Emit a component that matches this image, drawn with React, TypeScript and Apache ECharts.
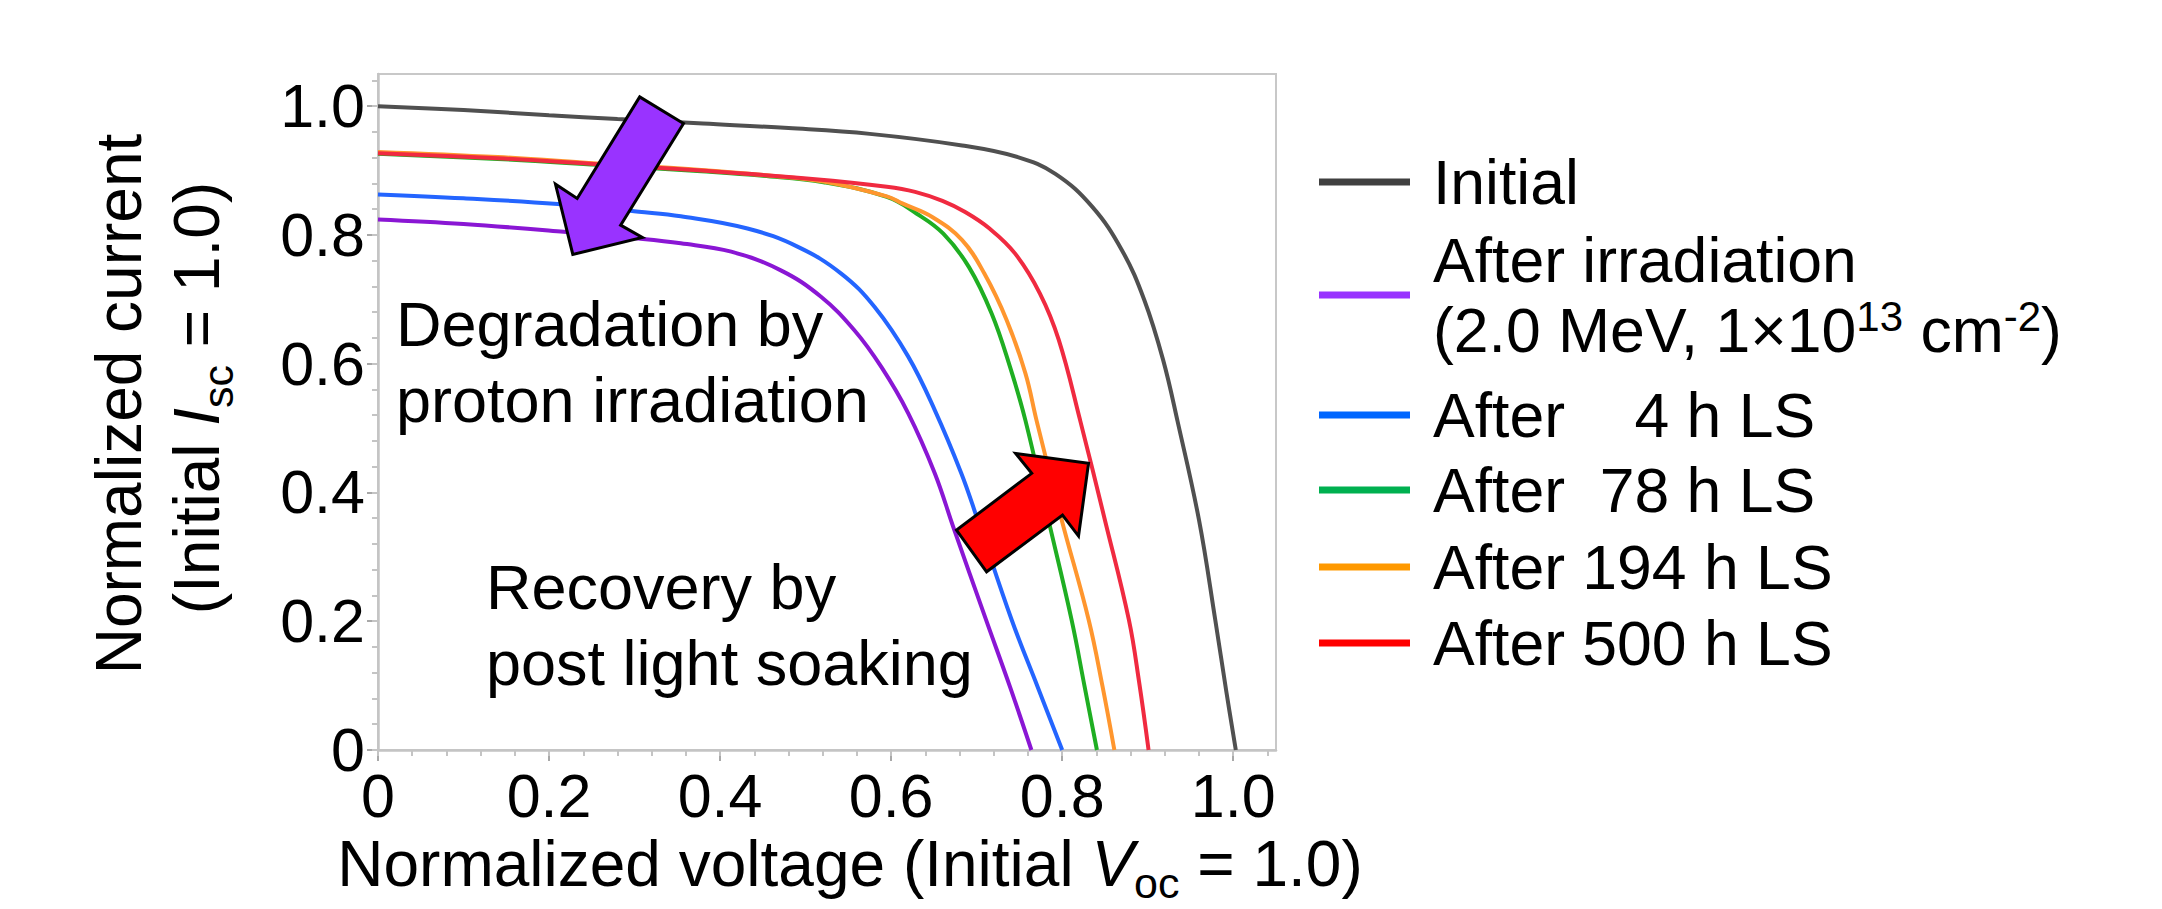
import React, { useEffect, useRef } from 'react';
import * as echarts from 'echarts';

// ---------- data (normalized voltage V, normalized current I) ----------
const seriesNames = ['Initial', 'After irradiation', 'After    4 h LS', 'After  78 h LS', 'After 194 h LS', 'After 500 h LS'];

const initialV = [0, 0.10, 0.20, 0.28, 0.38, 0.48, 0.575, 0.683, 0.748, 0.792, 0.835, 0.870, 0.896, 0.918, 0.935, 0.960, 0.979, 0.992, 1.003];
const initialI = [1.000, 0.994, 0.986, 0.980, 0.973, 0.966, 0.957, 0.939, 0.921, 0.895, 0.844, 0.776, 0.699, 0.606, 0.510, 0.357, 0.202, 0.090, 0];

const irradV = [0, 0.10, 0.217, 0.30, 0.354, 0.413, 0.471, 0.518, 0.557, 0.5885, 0.620, 0.651, 0.673, 0.711, 0.739, 0.764];
const irradI = [0.824, 0.817, 0.805, 0.795, 0.787, 0.774, 0.745, 0.704, 0.652, 0.595, 0.523, 0.430, 0.345, 0.202, 0.098, 0];

const ls4V = [0, 0.10, 0.21, 0.305, 0.354, 0.432, 0.491, 0.5416, 0.5807, 0.620, 0.651, 0.682, 0.700, 0.741, 0.771, 0.800];
const ls4I = [0.863, 0.857, 0.848, 0.836, 0.829, 0.810, 0.7815, 0.740, 0.688, 0.611, 0.528, 0.430, 0.362, 0.202, 0.099, 0];

const ls78V = [0, 0.14, 0.256, 0.378, 0.45, 0.521, 0.595, 0.630, 0.661, 0.691, 0.7175, 0.739, 0.757, 0.784, 0.811, 0.826, 0.8406];
const ls78I = [0.926, 0.918, 0.909, 0.899, 0.892, 0.882, 0.859, 0.833, 0.802, 0.750, 0.678, 0.595, 0.512, 0.357, 0.202, 0.100, 0];

const ls194V = [0, 0.14, 0.256, 0.378, 0.45, 0.521, 0.595, 0.613, 0.648, 0.683, 0.709, 0.735, 0.757, 0.770, 0.7995, 0.831, 0.847, 0.861];
const ls194I = [0.929, 0.921, 0.911, 0.901, 0.893, 0.883, 0.860, 0.849, 0.828, 0.792, 0.740, 0.668, 0.585, 0.512, 0.357, 0.202, 0.100, 0];

const ls500V = [0, 0.14, 0.256, 0.378, 0.508, 0.595, 0.628, 0.660, 0.686, 0.715, 0.745, 0.774, 0.796, 0.821, 0.850, 0.878, 0.890, 0.901];
const ls500I = [0.927, 0.919, 0.910, 0.900, 0.887, 0.875, 0.867, 0.853, 0.836, 0.810, 0.771, 0.709, 0.637, 0.512, 0.357, 0.202, 0.105, 0];

const majorTicks = [0, 0.2, 0.4, 0.6, 0.8, 1.0];

// annotation arrows, in data coordinates [V, I]
const purpleArrow = [[0.3572, 0.9731], [0.3060, 1.0144], [0.2329, 0.8567], [0.2075, 0.8789], [0.2278, 0.7697], [0.3091, 0.7961], [0.2837, 0.8152]];
const redArrow = [[0.7116, 0.2768], [0.6764, 0.3416], [0.7644, 0.4297], [0.7456, 0.4607], [0.8308, 0.4452], [0.8191, 0.3323], [0.8004, 0.3649]];

// ---------- styles ----------
const FONT = "'Liberation Sans', Arial, Helvetica, sans-serif";
const curveColors = ['#505050', '#8a16d4', '#2465ff', '#1fae22', '#ff962e', '#f02a40'];
const legendColors = ['#404040', '#9933ff', '#0066ff', '#00b050', '#ff9900', '#ff0000'];
const legendY = [182, 295, 415, 490, 567, 643];

export default function App() {
  const ref = useRef<HTMLDivElement>(null);

  useEffect(() => {
    document.body.style.margin = '0';
    const chart = echarts.init(ref.current!, null, { renderer: 'svg' });

    const curves = [
      [initialV, initialI],
      [irradV, irradI],
      [ls4V, ls4I],
      [ls78V, ls78I],
      [ls194V, ls194I],
      [ls500V, ls500I],
    ];

    const series = curves.map(([vs, is], k) => ({
      type: 'line',
      name: seriesNames[k],
      data: vs.map((v, i) => [v, is[i]]),
      showSymbol: false,
      smooth: 0.4,
      silent: true,
      xAxisIndex: 0,
      yAxisIndex: 0,
      lineStyle: { color: curveColors[k], width: 4 },
      z: 2 + k,
    }));

    const minorVals: number[] = [];
    for (let k = 0; k <= 26; k++) minorVals.push(Math.round(k * 4) / 100);

    const fmt = (v: number) => (v === 0 ? '0' : v.toFixed(1));

    const axisCommon = {
      type: 'value',
      min: 0,
      max: 1.05,
      splitLine: { show: false },
    };

    chart.setOption({
      animation: false,
      backgroundColor: '#ffffff',
      grid: {
        left: 378, top: 74, width: 898, height: 676,
        show: true, borderColor: '#c8c8c8', borderWidth: 2,
        outerBoundsMode: 'none',
      },
      xAxis: [
        {
          ...axisCommon, position: 'bottom', interval: 0.2,
          axisLine: { show: true, onZero: false, lineStyle: { color: '#c4c4c4', width: 2.5 } },
          axisTick: { show: true, length: 11, customValues: majorTicks, lineStyle: { color: '#a8a8a8', width: 2 } },
          axisLabel: { show: true, customValues: majorTicks, formatter: fmt, fontSize: 61, fontFamily: FONT, color: '#000', margin: 15 },
        },
        {
          ...axisCommon, position: 'bottom', interval: 0.04,
          axisLine: { show: false },
          axisTick: { show: true, length: 6, customValues: minorVals, lineStyle: { color: '#c4c4c4', width: 2 } },
          axisLabel: { show: false },
        },
      ],
      yAxis: [
        {
          ...axisCommon, position: 'left', interval: 0.2,
          axisLine: { show: true, onZero: false, lineStyle: { color: '#c4c4c4', width: 2.5 } },
          axisTick: { show: true, length: 11, customValues: majorTicks, lineStyle: { color: '#a8a8a8', width: 2 } },
          axisLabel: { show: true, customValues: majorTicks, formatter: fmt, fontSize: 61, fontFamily: FONT, color: '#000', margin: 13 },
        },
        {
          ...axisCommon, position: 'left', interval: 0.04,
          axisLine: { show: false },
          axisTick: { show: true, length: 6, customValues: minorVals, lineStyle: { color: '#c4c4c4', width: 2 } },
          axisLabel: { show: false },
        },
      ],
      series,
    });

    const toPx = (pts: number[][]) =>
      pts.map((p) => chart.convertToPixel({ xAxisIndex: 0, yAxisIndex: 0 }, p) as number[]);

    const baseText = { fontSize: 63, fontFamily: FONT, fill: '#000' };
    const titleText = { fontSize: 64, fontFamily: FONT, fill: '#000' };
    const subStyle = { fontSize: 43, fontFamily: FONT, fill: '#000', height: 22, verticalAlign: 'bottom' };
    const subStyleX = { fontSize: 43, fontFamily: FONT, fill: '#000', height: 26, verticalAlign: 'bottom' };
    const itStyle = { fontSize: 64, fontFamily: FONT, fontStyle: 'italic', fill: '#000' };
    const supStyle = { fontSize: 42, fontFamily: FONT, fill: '#000', height: 43, verticalAlign: 'top' };

    const legendLabels = [
      seriesNames[0],
      'After irradiation\n(2.0 MeV, 1×10{sup|13} cm{sup|-2})',
      seriesNames[2],
      seriesNames[3],
      seriesNames[4],
      seriesNames[5],
    ];

    const legendEls: any[] = [];
    legendLabels.forEach((label, k) => {
      legendEls.push({
        type: 'line',
        shape: { x1: 1319, y1: legendY[k], x2: 1410, y2: legendY[k] },
        style: { stroke: legendColors[k], lineWidth: 7 },
        z: 50,
      });
      legendEls.push({
        type: 'text',
        x: 1433,
        y: legendY[k],
        z: 50,
        style: {
          text: label,
          fontSize: 62.5, fontFamily: FONT, fill: '#000',
          lineHeight: 70.5,
          align: 'left', verticalAlign: 'middle',
          rich: { sup: supStyle },
        },
      });
    });

    chart.setOption({
      graphic: [
        {
          type: 'polygon', z: 100,
          shape: { points: toPx(purpleArrow) },
          style: { fill: '#9933ff', stroke: '#000', lineWidth: 3, lineJoin: 'miter' },
        },
        {
          type: 'polygon', z: 100,
          shape: { points: toPx(redArrow) },
          style: { fill: '#ff0000', stroke: '#000', lineWidth: 3, lineJoin: 'miter' },
        },
        {
          type: 'text', x: 396, y: 286, z: 60,
          style: { ...baseText, text: 'Degradation by\nproton irradiation', lineHeight: 76, align: 'left', verticalAlign: 'top' },
        },
        {
          type: 'text', x: 486, y: 548.5, z: 60,
          style: { ...baseText, text: 'Recovery by\npost light soaking', lineHeight: 76, align: 'left', verticalAlign: 'top' },
        },
        {
          type: 'text', x: 118.5, y: 404, rotation: Math.PI / 2, z: 60,
          style: { ...titleText, text: 'Normalized current', align: 'center', verticalAlign: 'middle' },
        },
        {
          type: 'text', x: 196.5, y: 398, rotation: Math.PI / 2, z: 60,
          style: {
            ...titleText, text: '(Initial {i|I}{sub|sc} = 1.0)', lineHeight: 64,
            align: 'center', verticalAlign: 'middle',
            rich: { i: itStyle, sub: subStyle },
          },
        },
        {
          type: 'text', x: 850, y: 864, z: 60,
          style: {
            ...titleText, text: 'Normalized voltage (Initial {i|V}{sub|oc} = 1.0)', lineHeight: 64,
            align: 'center', verticalAlign: 'middle',
            rich: { i: itStyle, sub: subStyleX },
          },
        },
        ...legendEls,
      ],
    });

    return () => chart.dispose();
  }, []);

  return (
    <div
      ref={ref}
      style={{ position: 'absolute', left: 0, top: 0, width: 2162, height: 909 }}
    />
  );
}
